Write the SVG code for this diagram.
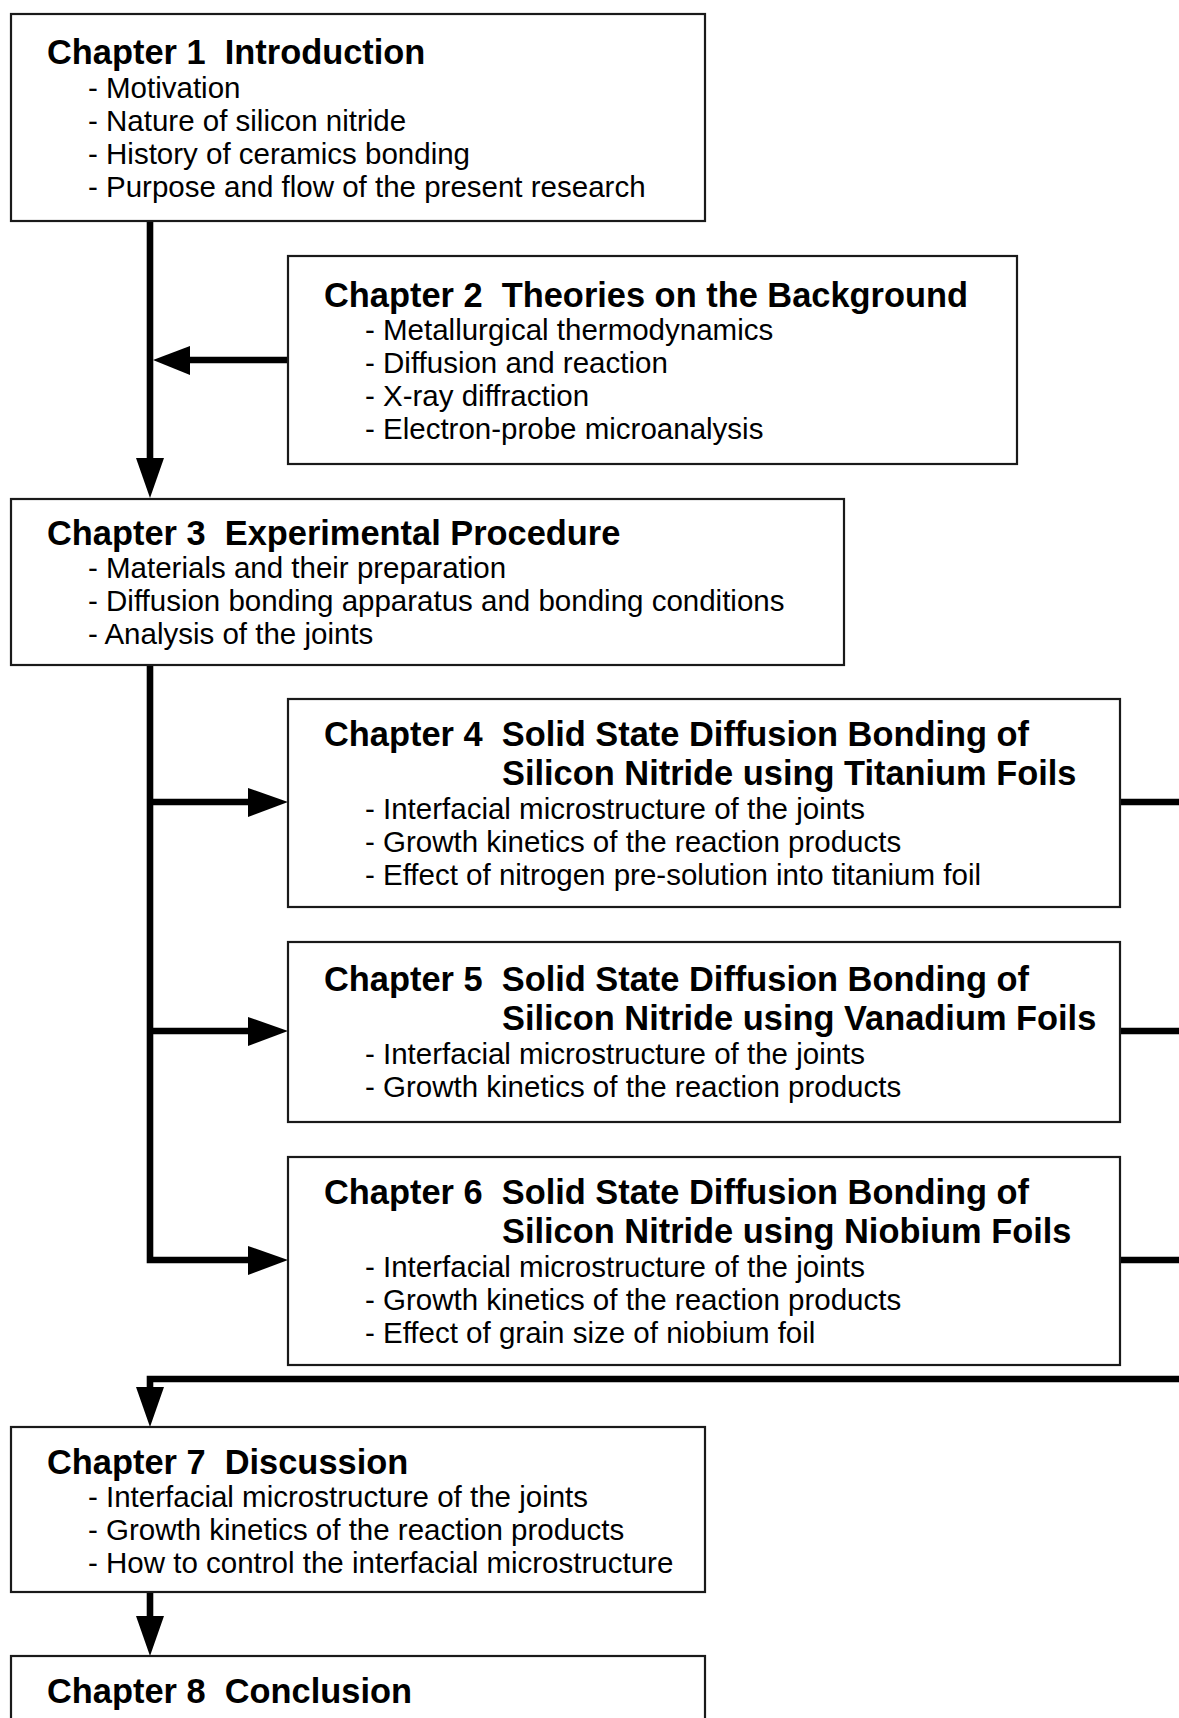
<svg xmlns="http://www.w3.org/2000/svg" width="1179" height="1718" viewBox="0 0 1179 1718">
<style>
.box{fill:#fff;stroke:#1a1a1a;stroke-width:2.2}
.t{font-family:"Liberation Sans",Arial,sans-serif;font-weight:bold;font-size:34.4px;fill:#000}
.b{font-family:"Liberation Sans",Arial,sans-serif;font-size:29.5px;fill:#000}
.ln{fill:none;stroke:#000;stroke-width:6.6;stroke-linejoin:miter;stroke-linecap:butt}
.ah{fill:#000}
</style>
<rect width="1179" height="1718" fill="#fff"/>
<g id="connectors">
<polyline class="ln" points="150,221 150,459"/>
<polygon class="ah" points="136,458 164,458 150,498"/>
<polyline class="ln" points="288,360 189,360"/>
<polygon class="ah" points="190,346 190,375 153,360"/>
<polyline class="ln" points="150,665 150,1260 249,1260"/>
<polygon class="ah" points="248,1246 248,1275 288,1260"/>
<polyline class="ln" points="150,802 249,802"/>
<polygon class="ah" points="248,788 248,817 288,802"/>
<polyline class="ln" points="150,1031 249,1031"/>
<polygon class="ah" points="248,1017 248,1046 288,1031"/>
<polyline class="ln" points="1120,802 1180,802"/>
<polyline class="ln" points="1120,1031 1180,1031"/>
<polyline class="ln" points="1120,1260 1180,1260"/>
<polyline class="ln" points="1180,1379 150,1379 150,1388"/>
<polygon class="ah" points="136,1387 164,1387 150,1427"/>
<polyline class="ln" points="150,1592 150,1617"/>
<polygon class="ah" points="136,1616 164,1616 150,1656"/>
</g>
<g id="ch1">
<rect class="box" x="11" y="14" width="694" height="207"/>
<text class="t" x="47" y="64">Chapter 1&#160; Introduction</text>
<text class="b" x="88" y="98">- Motivation</text>
<text class="b" x="88" y="131">- Nature of silicon nitride</text>
<text class="b" x="88" y="164">- History of ceramics bonding</text>
<text class="b" x="88" y="197">- Purpose and flow of the present research</text>
</g>
<g id="ch2">
<rect class="box" x="288" y="256" width="729" height="208"/>
<text class="t" x="324" y="307">Chapter 2&#160; Theories on the Background</text>
<text class="b" x="365" y="340">- Metallurgical thermodynamics</text>
<text class="b" x="365" y="373">- Diffusion and reaction</text>
<text class="b" x="365" y="406">- X-ray diffraction</text>
<text class="b" x="365" y="439">- Electron-probe microanalysis</text>
</g>
<g id="ch3">
<rect class="box" x="11" y="499" width="833" height="166"/>
<text class="t" x="47" y="545">Chapter 3&#160; Experimental Procedure</text>
<text class="b" x="88" y="578">- Materials and their preparation</text>
<text class="b" x="88" y="611">- Diffusion bonding apparatus and bonding conditions</text>
<text class="b" x="88" y="644">- Analysis of the joints</text>
</g>
<g id="ch4">
<rect class="box" x="288" y="699" width="832" height="208"/>
<text class="t" x="324" y="746">Chapter 4&#160; Solid State Diffusion Bonding of</text>
<text class="t" x="502" y="785">Silicon Nitride using Titanium Foils</text>
<text class="b" x="365" y="819">- Interfacial microstructure of the joints</text>
<text class="b" x="365" y="852">- Growth kinetics of the reaction products</text>
<text class="b" x="365" y="885">- Effect of nitrogen pre-solution into titanium foil</text>
</g>
<g id="ch5">
<rect class="box" x="288" y="942" width="832" height="180"/>
<text class="t" x="324" y="991">Chapter 5&#160; Solid State Diffusion Bonding of</text>
<text class="t" x="502" y="1030">Silicon Nitride using Vanadium Foils</text>
<text class="b" x="365" y="1064">- Interfacial microstructure of the joints</text>
<text class="b" x="365" y="1097">- Growth kinetics of the reaction products</text>
</g>
<g id="ch6">
<rect class="box" x="288" y="1157" width="832" height="208"/>
<text class="t" x="324" y="1204">Chapter 6&#160; Solid State Diffusion Bonding of</text>
<text class="t" x="502" y="1243">Silicon Nitride using Niobium Foils</text>
<text class="b" x="365" y="1277">- Interfacial microstructure of the joints</text>
<text class="b" x="365" y="1310">- Growth kinetics of the reaction products</text>
<text class="b" x="365" y="1343">- Effect of grain size of niobium foil</text>
</g>
<g id="ch7">
<rect class="box" x="11" y="1427" width="694" height="165"/>
<text class="t" x="47" y="1474">Chapter 7&#160; Discussion</text>
<text class="b" x="88" y="1507">- Interfacial microstructure of the joints</text>
<text class="b" x="88" y="1540">- Growth kinetics of the reaction products</text>
<text class="b" x="88" y="1573">- How to control the interfacial microstructure</text>
</g>
<g id="ch8">
<rect class="box" x="11" y="1656" width="694" height="90"/>
<text class="t" x="47" y="1703">Chapter 8&#160; Conclusion</text>
</g>
</svg>
